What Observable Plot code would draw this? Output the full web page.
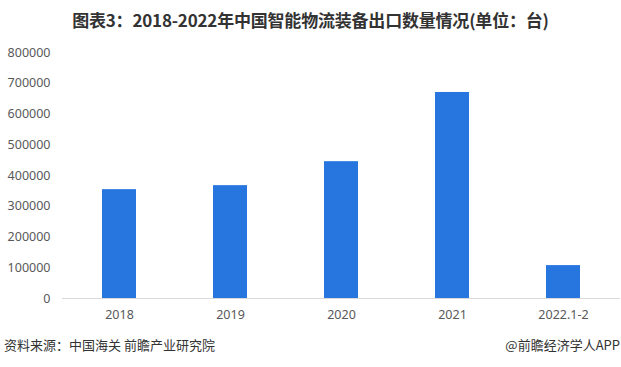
<!DOCTYPE html>
<html>
<head>
<meta charset="utf-8">
<script src="https://cdn.jsdelivr.net/npm/d3@7"></script>
<script src="https://cdn.jsdelivr.net/npm/@observablehq/plot@0.6"></script>
<style>
  html, body { margin: 0; padding: 0; background: #fff; }
  body { width: 621px; height: 367px; overflow: hidden; font-family: "Noto Sans CJK SC", "Noto Sans", sans-serif; }
  #title { height: 40px; line-height: 40px; text-align: center; font-size: 17px; font-weight: bold; color: #333; letter-spacing: -0.2px; }
  #chart svg { display: block; }
  #caption { position: relative; height: 30px; font-size: 13px; color: #333; }
  #caption .l { position: absolute; left: 4px; top: 5px; }
  #caption .r { position: absolute; right: 1px; top: 5px; }
</style>
</head>
<body>
<div id="title">图表3：2018-2022年中国智能物流装备出口数量情况(单位：台)</div>
<div id="chart"></div>
<div id="caption"><span class="l">资料来源：中国海关 前瞻产业研究院</span><span class="r">@前瞻经济学人APP</span></div>
<script>
const categories = ["2018", "2019", "2020", "2021", "2022.1-2"];
const values = [354000, 367000, 445000, 670000, 107000];
const yTicks = [0, 100000, 200000, 300000, 400000, 500000, 600000, 700000, 800000];

const data = categories.map((c, i) => ({category: c, value: values[i]}));

const chart = Plot.plot({
  width: 621,
  height: 290,
  marginTop: 12,
  marginBottom: 32,
  marginLeft: 62,
  marginRight: 1,
  style: {fontFamily: "'Noto Sans', 'DejaVu Sans', sans-serif", fontSize: "12.5px", color: "#595959", background: "#fff"},
  x: {domain: categories, paddingInner: 0.69, paddingOuter: 0.345, label: null, tickSize: 0, tickPadding: 12},
  y: {domain: [0, 800000], ticks: yTicks, tickFormat: d3.format("d"), label: null, tickSize: 0, tickPadding: 12},
  marks: [
    Plot.barY(data, {x: "category", y: "value", fill: "#2776DF"}),
    Plot.ruleY([0], {stroke: "#d9d9d9", strokeWidth: 1})
  ]
});
document.getElementById("chart").appendChild(chart);
</script>
</body>
</html>
